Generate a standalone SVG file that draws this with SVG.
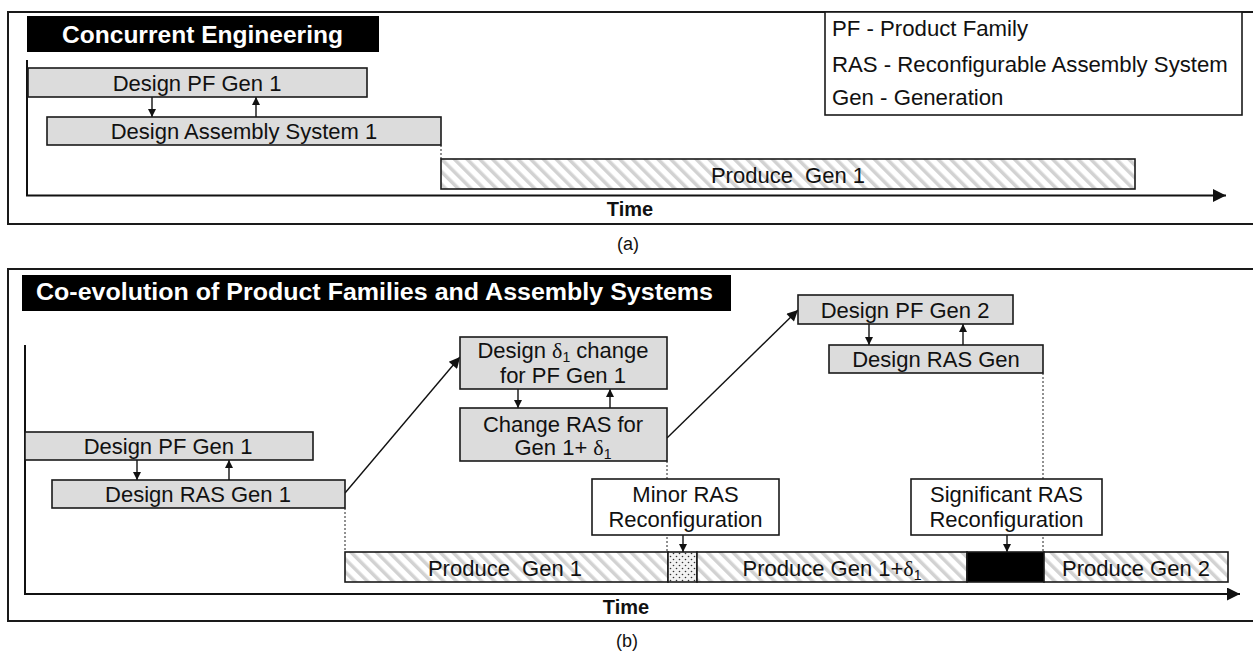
<svg xmlns="http://www.w3.org/2000/svg" width="1253" height="651" viewBox="0 0 1253 651">
  <style>
    text { font-family: "Liberation Sans", Arial, sans-serif; fill: #111; }
    .box { fill: #dcdcdc; stroke: #1a1a1a; stroke-width: 1.6; }
    .note { fill: #fff; stroke: #1a1a1a; stroke-width: 1.6; }
    .hatch { fill: url(#hatch); stroke: #1a1a1a; stroke-width: 1.6; }
    .lbl { font-size: 22px; text-anchor: middle; }
    .title { font-size: 24.7px; font-weight: bold; fill: #fff; }
    .frame { fill: none; stroke: #1a1a1a; stroke-width: 2; }
    .axis { fill: none; stroke: #111; stroke-width: 2; }
    .link { fill: none; stroke: #111; stroke-width: 1.4; }
    .dot { stroke: #222; stroke-width: 1; stroke-dasharray: 2 2; }
    .time { font-size: 20px; font-weight: bold; text-anchor: middle; }
    .cap { font-size: 18px; text-anchor: middle; }
    .legend { font-size: 22.2px; }
    .sub { font-size: 14px; }
    .greek { font-family: "Liberation Serif", "DejaVu Serif", serif; }
  </style>
  <defs>
    <pattern id="hatch" patternUnits="userSpaceOnUse" width="9" height="9" patternTransform="rotate(-45)">
      <rect width="9" height="9" fill="#fff"/>
      <rect width="3.5" height="9" fill="#d2d2d2"/>
    </pattern>
    <pattern id="stipple" patternUnits="userSpaceOnUse" width="6" height="6">
      <rect width="6" height="6" fill="#f2f2f2"/>
      <circle cx="1.5" cy="1.5" r="0.8" fill="#333"/>
      <circle cx="4.5" cy="4.5" r="0.8" fill="#333"/>
    </pattern>
    <marker id="tip" viewBox="0 0 10 10" refX="10" refY="5" markerWidth="8" markerHeight="9" markerUnits="userSpaceOnUse" orient="auto">
      <path d="M0,0 L10,5 L0,10 z" fill="#111"/>
    </marker>
    <marker id="tipL" viewBox="0 0 10 10" refX="10" refY="5" markerWidth="14" markerHeight="11" markerUnits="userSpaceOnUse" orient="auto">
      <path d="M0,0 L10,5 L0,10 z" fill="#111"/>
    </marker>
    <marker id="axisTip" viewBox="0 0 10 10" refX="10" refY="5" markerWidth="15" markerHeight="13" markerUnits="userSpaceOnUse" orient="auto">
      <path d="M0,0 L10,5 L0,10 z" fill="#111"/>
    </marker>
  </defs>

  <rect width="1253" height="651" fill="#fff"/>

  <!-- panel (a): concurrent engineering -->
  <g id="panel-a">
    <rect class="frame" x="8" y="12" width="1260" height="212"/>
    <rect x="27" y="16" width="352" height="36" fill="#000"/>
    <text class="title" x="62" y="43" textLength="281" lengthAdjust="spacingAndGlyphs">Concurrent Engineering</text>
    <text class="time" x="630" y="216">Time</text>
    <text class="cap" x="628" y="250">(a)</text>
  </g>

  <g id="legend">
    <rect class="note" x="825" y="12" width="417" height="103"/>
    <text class="legend" x="832" y="36">PF - Product Family</text>
    <text class="legend" x="832" y="72">RAS - Reconfigurable Assembly System</text>
    <text class="legend" x="832" y="105">Gen - Generation</text>
  </g>

  <!-- panel (b): co-evolution -->
  <g id="panel-b">
    <rect class="frame" x="8" y="269" width="1260" height="352"/>
    <rect x="22" y="275" width="709" height="36" fill="#000"/>
    <text class="title" x="36" y="300" textLength="677" lengthAdjust="spacingAndGlyphs">Co-evolution of Product Families and Assembly Systems</text>
    <text class="time" x="626" y="614">Time</text>
    <text class="cap" x="627" y="647">(b)</text>
  </g>

  <g id="connectors">
    <!-- time axes -->
    <path class="axis" d="M27,60 V195.5 H1226" marker-end="url(#axisTip)"/>
    <path class="axis" d="M25,345 V594 H1240" marker-end="url(#axisTip)"/>
    <!-- hand-over lines to production -->
    <line class="dot" x1="441" y1="145" x2="441" y2="159"/>
    <line class="dot" x1="345" y1="508" x2="345" y2="552"/>
    <line class="dot" x1="667" y1="461" x2="667" y2="552"/>
    <line class="dot" x1="1043" y1="373" x2="1043" y2="552"/>
    <!-- design feedback loops -->
    <line class="link" x1="152" y1="97" x2="152" y2="117" marker-end="url(#tip)"/>
    <line class="link" x1="256" y1="117" x2="256" y2="97" marker-end="url(#tip)"/>
    <line class="link" x1="137" y1="460" x2="137" y2="480" marker-end="url(#tip)"/>
    <line class="link" x1="229" y1="480" x2="229" y2="460" marker-end="url(#tip)"/>
    <line class="link" x1="518" y1="389" x2="518" y2="408" marker-end="url(#tip)"/>
    <line class="link" x1="610" y1="408" x2="610" y2="389" marker-end="url(#tip)"/>
    <line class="link" x1="869" y1="324" x2="869" y2="345" marker-end="url(#tip)"/>
    <line class="link" x1="963" y1="345" x2="963" y2="324" marker-end="url(#tip)"/>
    <!-- evolution steps -->
    <line class="link" x1="345" y1="493" x2="460" y2="357" marker-end="url(#tipL)"/>
    <line class="link" x1="667" y1="438" x2="798" y2="310" marker-end="url(#tipL)"/>
    <!-- reconfiguration events -->
    <line class="link" x1="683" y1="535" x2="683" y2="552" marker-end="url(#tip)"/>
    <line class="link" x1="1007" y1="535" x2="1007" y2="552" marker-end="url(#tip)"/>
  </g>

  <!-- panel (a) nodes -->
  <g id="a-design-pf-gen1">
    <rect class="box" x="28" y="68" width="339" height="29"/>
    <text class="lbl" x="197" y="91">Design PF Gen 1</text>
  </g>
  <g id="a-design-assembly-system1">
    <rect class="box" x="47" y="117" width="394" height="28"/>
    <text class="lbl" x="244" y="139">Design Assembly System 1</text>
  </g>
  <g id="a-produce-gen1">
    <rect class="hatch" x="441" y="159" width="694" height="30"/>
    <text class="lbl" x="788" y="183" xml:space="preserve">Produce  Gen 1</text>
  </g>

  <!-- panel (b) nodes -->
  <g id="b-design-pf-gen1">
    <rect class="box" x="25" y="432" width="288" height="28"/>
    <text class="lbl" x="168" y="454">Design PF Gen 1</text>
  </g>
  <g id="b-design-ras-gen1">
    <rect class="box" x="52" y="480" width="293" height="28"/>
    <text class="lbl" x="198" y="502">Design RAS Gen 1</text>
  </g>
  <g id="b-design-delta-change">
    <rect class="box" x="460" y="337" width="207" height="52"/>
    <text class="lbl" x="563" y="358">Design <tspan class="greek">δ</tspan><tspan class="sub" dy="4">1</tspan><tspan dy="-4"> change</tspan></text>
    <text class="lbl" x="563" y="383">for PF Gen 1</text>
  </g>
  <g id="b-change-ras">
    <rect class="box" x="460" y="408" width="207" height="53"/>
    <text class="lbl" x="563" y="432">Change RAS for</text>
    <text class="lbl" x="563" y="455">Gen 1+ <tspan class="greek">δ</tspan><tspan class="sub" dy="4">1</tspan></text>
  </g>
  <g id="b-design-pf-gen2">
    <rect class="box" x="798" y="295" width="215" height="29"/>
    <text class="lbl" x="905" y="318">Design PF Gen 2</text>
  </g>
  <g id="b-design-ras-gen">
    <rect class="box" x="829" y="345" width="214" height="28"/>
    <text class="lbl" x="936" y="367">Design RAS Gen</text>
  </g>
  <g id="b-minor-reconfig">
    <rect class="note" x="592" y="479" width="187" height="56"/>
    <text class="lbl" x="685.5" y="502">Minor RAS</text>
    <text class="lbl" x="685.5" y="527">Reconfiguration</text>
  </g>
  <g id="b-significant-reconfig">
    <rect class="note" x="911" y="479" width="191" height="56"/>
    <text class="lbl" x="1006.5" y="502">Significant RAS</text>
    <text class="lbl" x="1006.5" y="527">Reconfiguration</text>
  </g>
  <g id="b-produce-gen1">
    <rect class="hatch" x="345" y="552" width="323" height="30"/>
    <text class="lbl" x="505" y="576" xml:space="preserve">Produce  Gen 1</text>
  </g>
  <g id="b-minor-downtime">
    <rect x="668" y="552" width="29" height="30" fill="url(#stipple)" stroke="#1a1a1a" stroke-width="1.6"/>
  </g>
  <g id="b-produce-gen1-delta">
    <rect class="hatch" x="697" y="552" width="270" height="30"/>
    <text class="lbl" x="832" y="576">Produce Gen 1+<tspan class="greek">δ</tspan><tspan class="sub" dy="4">1</tspan></text>
  </g>
  <g id="b-significant-downtime">
    <rect x="967" y="552" width="77" height="30" fill="#000" stroke="#1a1a1a" stroke-width="1.6"/>
  </g>
  <g id="b-produce-gen2">
    <rect class="hatch" x="1044" y="552" width="184" height="30"/>
    <text class="lbl" x="1136" y="576">Produce Gen 2</text>
  </g>
</svg>
